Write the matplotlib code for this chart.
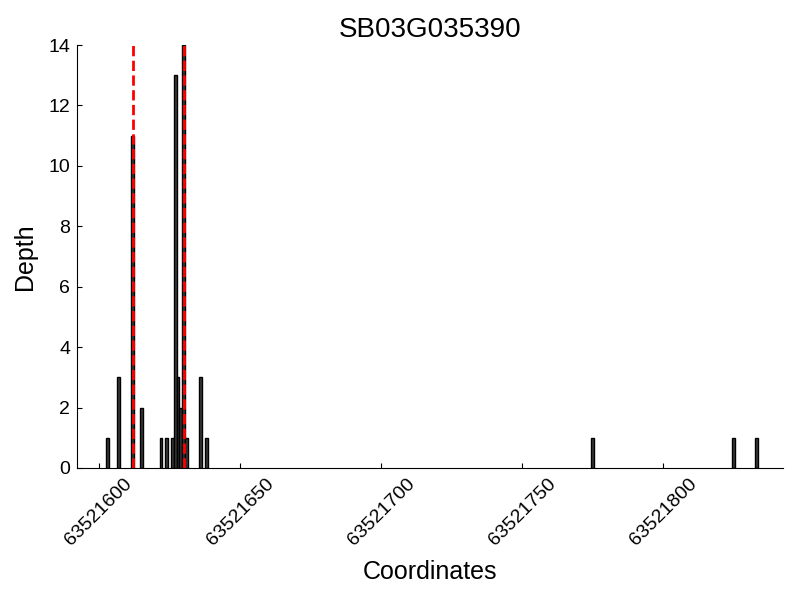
import matplotlib
matplotlib.use('Agg')
import matplotlib.pyplot as plt

plt.rcParams['font.family'] = ['Liberation Sans', 'DejaVu Sans']

# coverage depth per coordinate
coords = [63521603, 63521607, 63521612, 63521615, 63521622, 63521624,
          63521626, 63521627, 63521628, 63521629, 63521630, 63521631,
          63521636, 63521638, 63521775, 63521825, 63521833]
depth = [1, 3, 11, 2, 1, 1, 1, 13, 3, 2, 14, 1, 3, 1, 1, 1, 1]

# marked positions
marks = [63521612, 63521630]

xticks = [63521600, 63521650, 63521700, 63521750, 63521800]

fig = plt.figure(figsize=(8, 6), dpi=100)
ax = fig.add_axes([0.0966, 0.22, 0.8818, 0.705])

ax.bar(coords, depth, width=1.0, color='#3a3a3a', edgecolor='black',
       linewidth=1.0, zorder=2)
for m in marks:
    ax.axvline(m, color='red', linestyle='--', linewidth=2, zorder=3)

ax.set_xlim(63521592.3, 63521842.3)
ax.set_ylim(0, 14)
ax.set_xticks(xticks)
ax.set_xticklabels([str(t) for t in xticks], rotation=45)
ax.set_yticks(range(0, 15, 2))

ax.spines['top'].set_visible(False)
ax.spines['right'].set_visible(False)
ax.tick_params(direction='in', labelsize=14, top=False, right=False, pad=5)

ax.set_title('SB03G035390', fontsize=20)
ax.set_xlabel('Coordinates', fontsize=18, labelpad=8)
ax.set_ylabel('Depth', fontsize=18, labelpad=8)

fig.savefig('out.png', dpi=100)
